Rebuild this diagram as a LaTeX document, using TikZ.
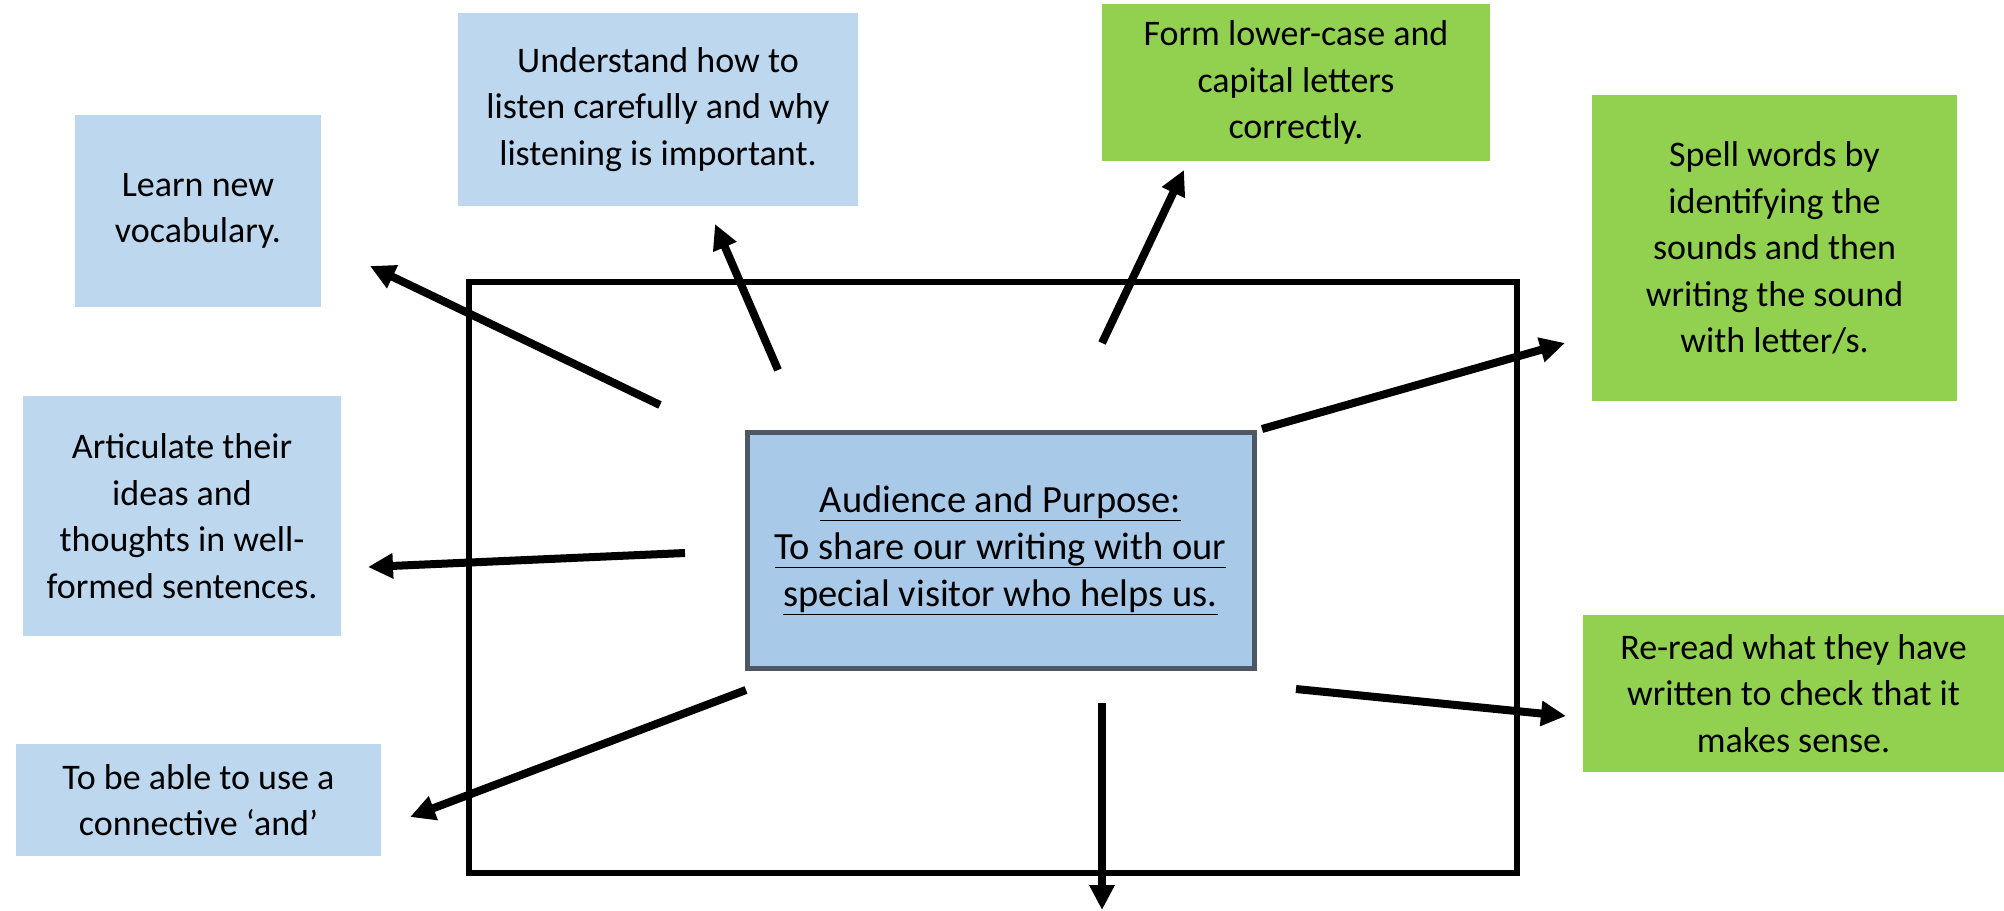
\documentclass[tikz,border=0pt]{standalone}
\usepackage{fontspec}
\setmainfont{Carlito}
\usetikzlibrary{arrows.meta}

\definecolor{skyblue}{RGB}{189,215,238}
\definecolor{aimblue}{RGB}{169,201,233}
\definecolor{leafgreen}{RGB}{146,208,80}
\definecolor{slate}{RGB}{78,88,100}

\begin{document}
\begin{tikzpicture}[x=1pt,y=-1pt,->,>={Triangle[length=25pt,width=24pt]},line width=8pt]
	\tikzstyle{goal}=[inner sep=0pt,align=center,font=\fontsize{36}{46.5}\selectfont]
	\tikzstyle{b-node}=[goal,fill=skyblue]
	\tikzstyle{g-node}=[goal,fill=leafgreen]
	\tikzstyle{aim}=[goal,fill=aimblue,draw=slate,line width=5pt,font=\fontsize{38.5}{47}\selectfont]

	\useasboundingbox (0,0) rectangle (2004,910);

	% frame
	\draw[-,line width=6pt] (469,282) rectangle (1517,873);

	\node[aim] 	(aim)	at (1000.5,550)	[minimum width=507pt,minimum height=236pt]
		{\underline{Audience and Purpose:}\\\underline{To share our writing with our}\\\underline{special visitor who helps us.}};

	% speaking and listening
	\node[b-node] 	(vocab)	at (198,211)	[minimum width=246pt,minimum height=192pt]	{Learn new\\vocabulary.};
	\node[b-node] 	(listen)	at (658,109.5)	[minimum width=400pt,minimum height=193pt]	{Understand how to\\listen carefully and why\\listening is important.};
	\node[b-node] 	(ideas)	at (182,516)	[minimum width=318pt,minimum height=240pt]	{Articulate their\\ideas and\\thoughts in well-\\formed sentences.};
	\node[b-node] 	(conn)	at (198.5,800)	[minimum width=365pt,minimum height=112pt]	{To be able to use a\\connective `and'};

	% writing
	\node[g-node] 	(letters)	at (1296,82.5)	[minimum width=388pt,minimum height=157pt]	{Form lower-case and\\capital letters\\correctly.};
	\node[g-node] 	(spell)	at (1774.5,248)	[minimum width=365pt,minimum height=306pt]	{Spell words by\\identifying the\\sounds and then\\writing the sound\\with letter/s.};
	\node[g-node] 	(reread)	at (1793.5,693.5)	[minimum width=421pt,minimum height=157pt]	{Re-read what they have\\written to check that it\\makes sense.};

	% arrow ends
	\coordinate (s-vocab)	at (660,405);	\coordinate (t-vocab)	at (370,266);
	\coordinate (s-listen)	at (778,370);	\coordinate (t-listen)	at (715,224);
	\coordinate (s-letters)	at (1102,343);	\coordinate (t-letters)	at (1184,170);
	\coordinate (s-spell)	at (1262,429);	\coordinate (t-spell)	at (1565,343);
	\coordinate (s-ideas)	at (685,553);	\coordinate (t-ideas)	at (368,567);
	\coordinate (s-conn)	at (746,690);	\coordinate (t-conn)	at (410,817);
	\coordinate (s-reread)	at (1296,689);	\coordinate (t-reread)	at (1566,716);
	\coordinate (s-down)	at (1102,703);	\coordinate (t-down)	at (1102,910);

	\path
		(s-vocab)	edge	(t-vocab)
		(s-listen)	edge	(t-listen)
		(s-letters)	edge	(t-letters)
		(s-spell)	edge	(t-spell)
		(s-ideas)	edge	(t-ideas)
		(s-conn)	edge	(t-conn)
		(s-reread)	edge	(t-reread)
		(s-down)	edge	(t-down);
\end{tikzpicture}
\end{document}
